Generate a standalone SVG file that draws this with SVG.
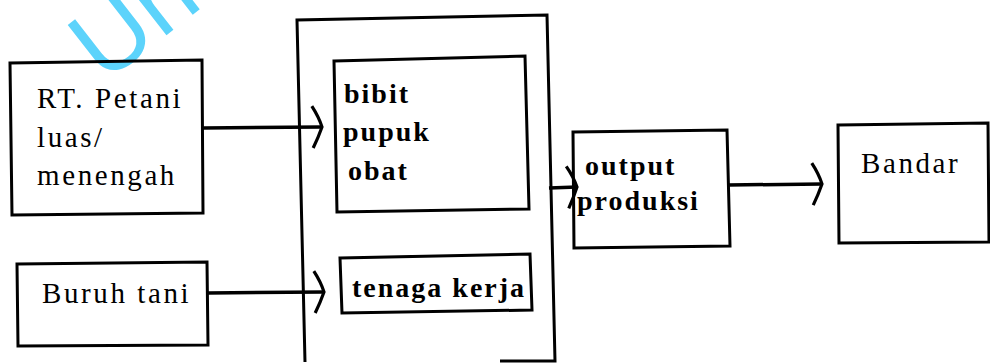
<svg xmlns="http://www.w3.org/2000/svg" width="990" height="363" viewBox="0 0 990 363">
<style>
.box{fill:none;stroke:#000;stroke-width:3;stroke-linejoin:miter}
.ln{fill:none;stroke:#000;stroke-width:3.5}
.t1{font-family:"Liberation Serif","DejaVu Serif",serif;font-size:29px;letter-spacing:2.6px;fill:#000}
.t2{font-family:"Liberation Serif","DejaVu Serif",serif;font-size:28px;font-weight:bold;letter-spacing:2px;fill:#000}
.wm{font-family:"Liberation Sans","DejaVu Sans",sans-serif;font-size:100px;fill:#5cd3fb}
</style>
<defs>
<marker id="chev" viewBox="-14 -26 18 52" markerWidth="18" markerHeight="52" refX="0" refY="0" orient="auto" markerUnits="userSpaceOnUse">
<path d="M-10,-21 Q-3,-10 0,0 Q-4,11 -9,21" fill="none" stroke="#000" stroke-width="3.2"/>
</marker>
</defs>
<text class="wm" transform="translate(104,84) rotate(-38)">Un</text>
<g id="rt-petani">
<polygon class="box" points="10,63 202,60 203,213 12,215"/>
<text class="t1" x="37" y="108">RT. Petani</text>
<text class="t1" x="37" y="147">luas/</text>
<text class="t1" x="37" y="185">menengah</text>
</g>
<g id="buruh-tani">
<polygon class="box" points="17,264 207,262 208,345 18,346"/>
<text class="t1" x="42" y="303">Buruh tani</text>
</g>
<g id="input">
<path class="box" d="M305,362 L297,20 L547,15 L555,361 L500,361"/>
</g>
<g id="bibit">
<polygon class="box" points="334,61 525,56 529,209 337,212"/>
<text class="t2" x="344" y="103">bibit</text>
<text class="t2" x="343" y="141">pupuk</text>
<text class="t2" x="348" y="180">obat</text>
</g>
<g id="tenaga-kerja">
<polygon class="box" points="340,258 530,254 532,310 342,313"/>
<text class="t2" x="352" y="297">tenaga kerja</text>
</g>
<g id="output">
<polygon class="box" points="573,132 727,130 730,246 574,248"/>
<text class="t2" x="585" y="175">output</text>
<text class="t2" x="577" y="210">produksi</text>
</g>
<g id="bandar">
<polygon class="box" points="838,125 988,123 989,242 839,243"/>
<text class="t1" x="861" y="173">Bandar</text>
</g>
<g id="connectors">
<path class="ln" d="M203,128 L322,127" marker-end="url(#chev)"/>
<path class="ln" d="M208,293 L324,292" marker-end="url(#chev)"/>
<path class="ln" d="M549,188 L577,187" marker-end="url(#chev)"/>
<path class="ln" d="M728,185 L822,184" marker-end="url(#chev)"/>
</g>
</svg>
